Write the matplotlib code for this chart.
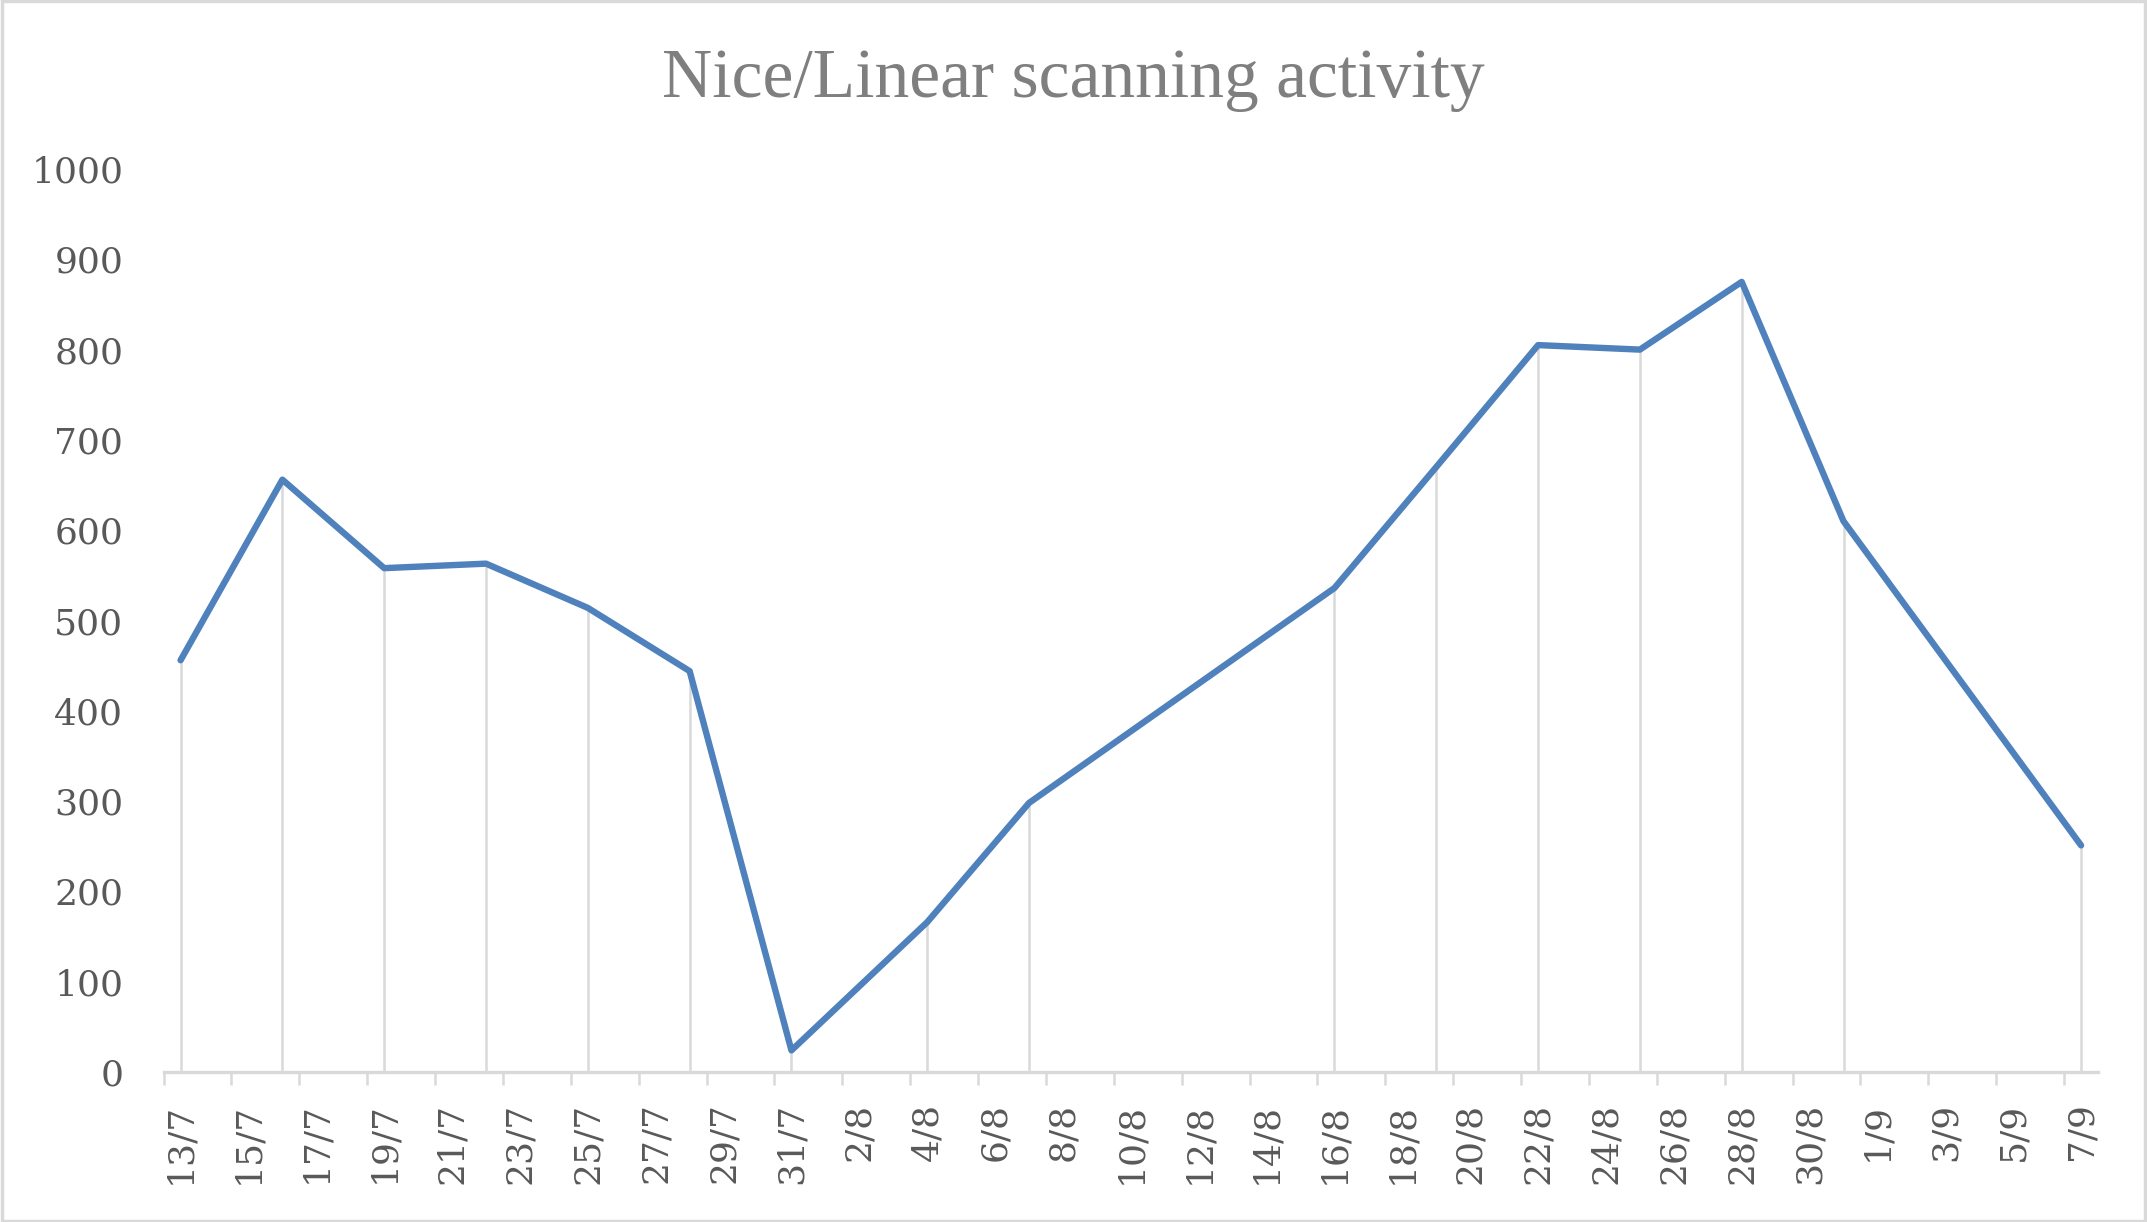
import numpy as np
import pandas as pd
import matplotlib
matplotlib.use("Agg")
import matplotlib.pyplot as plt
from matplotlib.patches import Rectangle

# -----------------------------
# Data (day/month, year not shown on chart)
# -----------------------------
day_labels = ["13/7", "16/7", "19/7", "22/7", "25/7", "28/7", "31/7", "4/8",
              "7/8", "16/8", "19/8", "22/8", "25/8", "28/8", "31/8", "7/9"]
scan_counts = [456, 656, 558, 563, 514, 444, 24, 166,
               298, 536, 670, 805, 800, 875, 610, 251]
y_ticks = [0, 100, 200, 300, 400, 500, 600, 700, 800, 900, 1000]

YEAR = 2021
dates = pd.to_datetime([f"{d}/{YEAR}" for d in day_labels], format="%d/%m/%Y")
x = matplotlib.dates.date2num(dates)

LINE_COLOR = "#4f81bd"
GRID_COLOR = "#d9d9d9"
TEXT_COLOR = "#595959"
TITLE_COLOR = "#7f7f7f"

fig = plt.figure(figsize=(21.47, 12.22), dpi=100)
ax = fig.add_axes([0.0762, 0.1227, 0.9010, 0.7390])

# drop lines from each point down to the axis
ax.vlines(x, 0, scan_counts, color=GRID_COLOR, linewidth=1.8, zorder=1)
ax.plot(x, scan_counts, color=LINE_COLOR, linewidth=4.6,
        solid_capstyle="round", solid_joinstyle="round", zorder=3)

# date axis: labels every 2 days, tick marks between labels
label_days = pd.date_range(dates[0], dates[-1], freq="2D")
label_x = matplotlib.dates.date2num(label_days)
ax.set_xlim(x[0] - 0.5, x[-1] + 0.5)
ax.set_xticks(label_x)
ax.set_xticklabels([f"{d.day}/{d.month}" for d in label_days],
                   rotation=90, fontsize=26, family="DejaVu Serif", color=TEXT_COLOR)
ax.set_xticks(np.arange(x[0] - 0.5, x[-1] + 0.6, 2), minor=True)
ax.tick_params(axis="x", which="major", length=0, pad=22)
ax.tick_params(axis="x", which="minor", length=9, width=1.8, color=GRID_COLOR)

ax.set_ylim(0, 1000)
ax.set_yticks(y_ticks)
ax.set_yticklabels([str(v) for v in y_ticks], fontsize=26,
                   family="DejaVu Serif", color=TEXT_COLOR)
ax.tick_params(axis="y", length=0, pad=29)

for side in ["top", "right", "left"]:
    ax.spines[side].set_visible(False)
ax.spines["bottom"].set_color(GRID_COLOR)
ax.spines["bottom"].set_linewidth(2.4)

fig.text(0.5, 0.9209, "Nice/Linear scanning activity", ha="center", va="baseline",
         fontsize=50, family="Liberation Serif", color=TITLE_COLOR)

# chart border
fig.patches.append(Rectangle((0.0008, 0.0012), 0.9984, 0.9976, transform=fig.transFigure,
                             fill=False, edgecolor=GRID_COLOR, linewidth=2.5))

fig.savefig("out.png", dpi=100, facecolor="white")
